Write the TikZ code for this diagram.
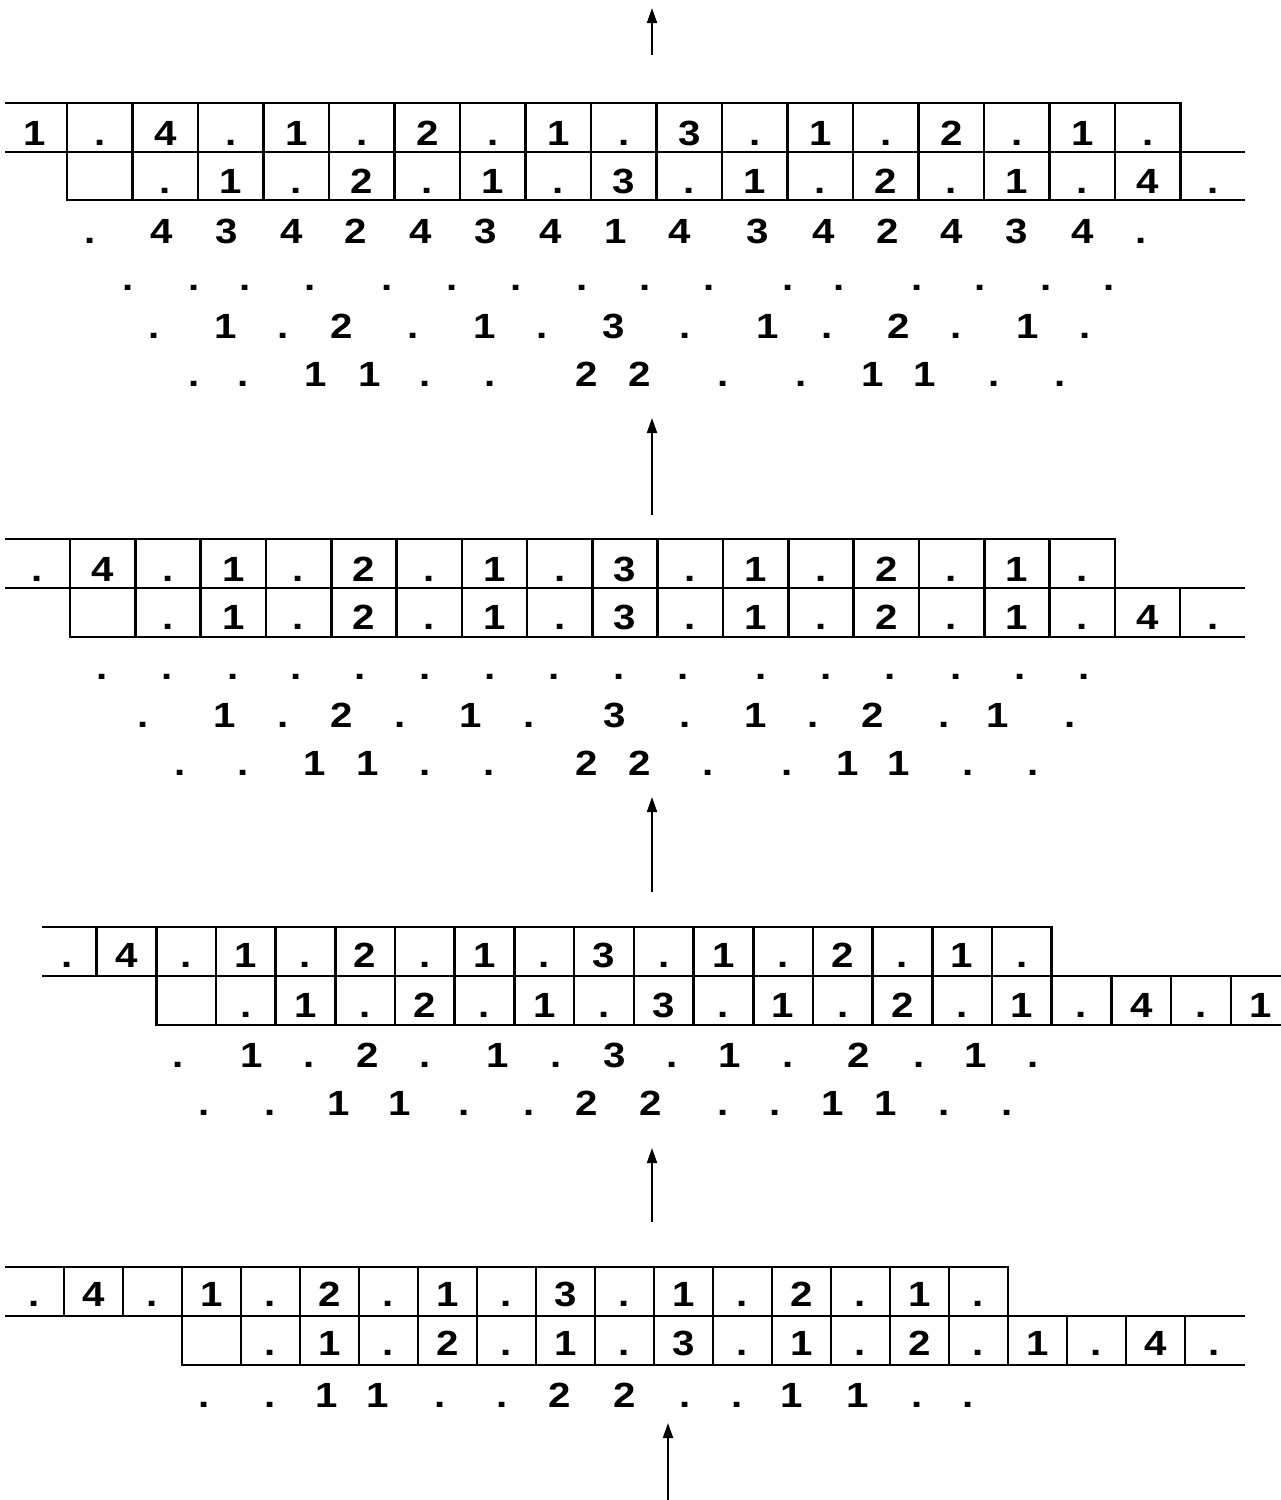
\documentclass[tikz,border=0pt]{standalone}
\usepackage{fontspec}
\setmainfont{Liberation Sans}[FakeStretch=1.15]
\usetikzlibrary{arrows.meta}
\tikzset{
  cell/.style={font=\bfseries\fontsize{35}{40}\selectfont, anchor=base, inner sep=0pt},
  gridline/.style={line width=2.6pt, line cap=rect},
  uparrow/.style={line width=2pt, -{Triangle[length=15pt,width=10pt]}}
}
\begin{document}
\begin{tikzpicture}[x=1pt,y=-1pt]
\useasboundingbox (0,0) rectangle (1281,1500);

% ---------- Panel 1 ----------
\draw[gridline] (6,103) -- (1180.5,103);
\draw[gridline] (6,152) -- (1244,152);
\draw[gridline] (67,200) -- (1244,200);
\foreach \k in {1,...,18} \draw[gridline] ({67+65.5*(\k-1)},103) -- ({67+65.5*(\k-1)},200);
\foreach \t [count=\k from 0] in {1,.,4,.,1,.,2,.,1,.,3,.,1,.,2,.,1,.}
  \node[cell] (pAa\k) at ({67+65.5*(\k-0.5)},145) {\t};
\foreach \t [count=\k from 2] in {.,1,.,2,.,1,.,3,.,1,.,2,.,1,.,4,.}
  \node[cell] (pAb\k) at ({67+65.5*(\k-0.5)},193) {\t};
\foreach \x/\t [count=\k] in {90/.,162/4,227/3,292/4,356/2,421/4,486/3,551/4,616/1,680/4,758/3,824/4,888/2,952/4,1017/3,1083/4,1141/.}
  \node[cell] (pAc\k) at (\x,243) {\t};
\foreach \x [count=\k] in {128,194,245,310,387,452,516,582,645,709,788,839,917,980,1046,1109}
  \node[cell] (pAd\k) at (\x,290) {.};
\foreach \x/\t [count=\k] in {154/.,226/1,283/.,342/2,413/.,485/1,542/.,614/3,685/.,768/1,827/.,899/2,956/.,1028/1,1085/.}
  \node[cell] (pAe\k) at (\x,338) {\t};
\foreach \x/\t [count=\k] in {194/.,243/.,316/1,370/1,425/.,490/.,587/2,640/2,723/.,801/.,873/1,925/1,994/.,1060/.}
  \node[cell] (pAf\k) at (\x,386) {\t};

% ---------- Panel 2 ----------
\draw[gridline] (6,539) -- (1114.8,539);
\draw[gridline] (6,588) -- (1244,588);
\draw[gridline] (70,637) -- (1244,637);
\foreach \k in {1,...,17} \draw[gridline] ({70+65.3*(\k-1)},539) -- ({70+65.3*(\k-1)},637);
\draw[gridline] ({70+65.3*17},588) -- ({70+65.3*17},637);
\foreach \t [count=\k from 0] in {.,4,.,1,.,2,.,1,.,3,.,1,.,2,.,1,.}
  \node[cell] (pBa\k) at ({70+65.3*(\k-0.5)},581) {\t};
\foreach \t [count=\k from 2] in {.,1,.,2,.,1,.,3,.,1,.,2,.,1,.,4,.}
  \node[cell] (pBb\k) at ({70+65.3*(\k-0.5)},629) {\t};
\foreach \x [count=\k] in {102,167,233,296,360,425,490,554,619,683,761,826,890,956,1020,1084}
  \node[cell] (pBc\k) at (\x,679) {.};
\foreach \x/\t [count=\k] in {143/.,225/1,283/.,342/2,400/.,471/1,529/.,615/3,685/.,756/1,813/.,873/2,944/.,998/1,1070/.}
  \node[cell] (pBd\k) at (\x,727) {\t};
\foreach \x/\t [count=\k] in {180/.,243/.,315/1,368/1,425/.,489/.,587/2,640/2,708/.,787/.,848/1,899/1,968/.,1033/.}
  \node[cell] (pBe\k) at (\x,775) {\t};

% ---------- Panel 3 ----------
\draw[gridline] (43,927) -- (1051.7,927);
\draw[gridline] (43,976) -- (1282,976);
\draw[gridline] (156.2,1025) -- (1282,1025);
\draw[gridline] (96.5,927) -- (96.5,976);
\foreach \k in {2,...,17} \draw[gridline] ({96.5+59.7*(\k-1)},927) -- ({96.5+59.7*(\k-1)},1025);
\foreach \k in {18,19,20} \draw[gridline] ({96.5+59.7*(\k-1)},976) -- ({96.5+59.7*(\k-1)},1025);
\foreach \t [count=\k from 0] in {.,4,.,1,.,2,.,1,.,3,.,1,.,2,.,1,.}
  \node[cell] (pCa\k) at ({96.5+59.7*(\k-0.5)},967) {\t};
\foreach \t [count=\k from 3] in {.,1,.,2,.,1,.,3,.,1,.,2,.,1,.,4,.,1}
  \node[cell] (pCb\k) at ({96.5+59.7*(\k-0.5)},1017) {\t};
\foreach \x/\t [count=\k] in {178/.,252/1,309/.,368/2,425/.,498/1,556/.,615/3,672/.,730/1,788/.,859/2,919/.,976/1,1033/.}
  \node[cell] (pCc\k) at (\x,1067) {\t};
\foreach \x/\t [count=\k] in {204/.,270/.,339/1,400/1,464/.,529/.,587/2,651/2,723/.,775/.,833/1,886/1,944/.,1007/.}
  \node[cell] (pCd\k) at (\x,1115) {\t};

% ---------- Panel 4 ----------
\draw[gridline] (6,1267) -- (1008,1267);
\draw[gridline] (6,1316) -- (1244,1316);
\draw[gridline] (182,1365) -- (1244,1365);
\foreach \k in {1,2} \draw[gridline] ({64+59*(\k-1)},1267) -- ({64+59*(\k-1)},1316);
\foreach \k in {3,...,17} \draw[gridline] ({64+59*(\k-1)},1267) -- ({64+59*(\k-1)},1365);
\foreach \k in {18,19,20} \draw[gridline] ({64+59*(\k-1)},1316) -- ({64+59*(\k-1)},1365);
\foreach \t [count=\k from 0] in {.,4,.,1,.,2,.,1,.,3,.,1,.,2,.,1,.}
  \node[cell] (pDa\k) at ({64+59*(\k-0.5)},1306) {\t};
\foreach \t [count=\k from 4] in {.,1,.,2,.,1,.,3,.,1,.,2,.,1,.,4,.}
  \node[cell] (pDb\k) at ({64+59*(\k-0.5)},1355) {\t};
\foreach \x/\t [count=\k] in {204/.,270/.,327/1,378/1,440/.,502/.,560/2,625/2,685/.,737/.,792/1,858/1,917/.,968/.}
  \node[cell] (pDc\k) at (\x,1407) {\t};

% ---------- Arrows ----------
\coordinate (a1s) at (652,55);   \coordinate (a1e) at (652,8);
\coordinate (a2s) at (652,515);  \coordinate (a2e) at (652,418);
\coordinate (a3s) at (652,892);  \coordinate (a3e) at (652,797);
\coordinate (a4s) at (652,1222); \coordinate (a4e) at (652,1148);
\coordinate (a5s) at (668,1500); \coordinate (a5e) at (668,1423);
\draw[uparrow] (a1s) -- (a1e);
\draw[uparrow] (a2s) -- (a2e);
\draw[uparrow] (a3s) -- (a3e);
\draw[uparrow] (a4s) -- (a4e);
\draw[uparrow] (a5s) -- (a5e);
\end{tikzpicture}
\end{document}
